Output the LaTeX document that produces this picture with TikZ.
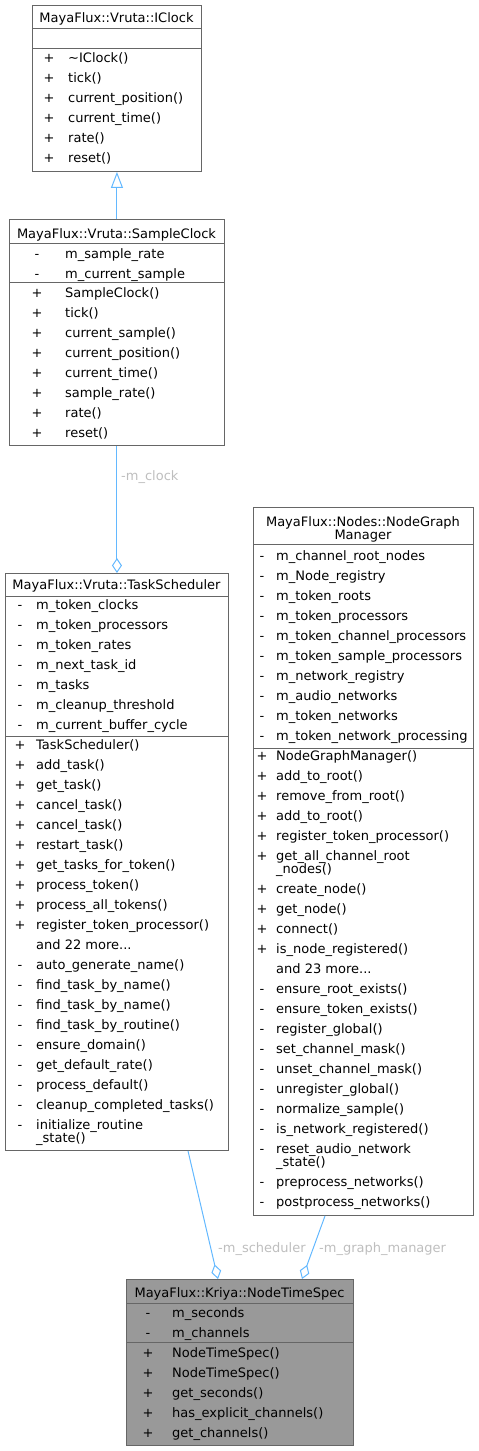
\documentclass[tikz,border=0pt]{standalone}
\usepackage{fontspec}
\setmainfont{DejaVu Sans}
\usetikzlibrary{arrows.meta}
\definecolor{edge}{HTML}{63B8FF}
\definecolor{bord}{HTML}{666666}
\definecolor{lab}{HTML}{BEBEBE}
\definecolor{hl}{HTML}{999999}
\newcommand\andmoreitems[1]{and #1 more...}
\begin{document}
\begin{tikzpicture}[x=1pt,y=-1pt, font=\fontsize{13}{15}\selectfont,
 box/.style={draw=bord, line width=0.9pt, fill=white, inner sep=0pt, anchor=north west},
 div/.style={draw=bord, line width=0.9pt},
 txt/.style={anchor=mid west, inner sep=0pt, yshift=-3pt},
 mk/.style={anchor=mid, inner sep=0pt, yshift=-3pt},
 ttl/.style={anchor=mid, inner sep=0pt, yshift=-3pt},
 lbl/.style={anchor=mid west, inner sep=0pt, text=lab, yshift=-3pt},
 inh/.style={draw=edge, line width=1pt, -{Triangle[open, length=16pt, width=12pt]}},
 agg/.style={draw=edge, line width=1pt, -{Diamond[open, length=15pt, width=10pt]}}]
\useasboundingbox (0,0) rectangle (479,1451);

% ---------------- IClock
\node[box, minimum width=169pt, minimum height=166pt] (iclock) at (32,5) {};
\draw[div] (32,28) -- (201,28);
\draw[div] (32,48) -- (201,48);
\node[ttl] (iclockT) at (116.5,17) {MayaFlux::Vruta::IClock};
\foreach \y/\m/\t in {57/+/\textasciitilde IClock(), 77/+/tick(), 97/+/current\_position(),
  117/+/current\_time(), 137/+/rate(), 157/+/reset()}{
  \node[mk] at (49,\y) {\m};
  \node[txt] at (68,\y) {\t};
}

% ---------------- SampleClock
\node[box, minimum width=215pt, minimum height=226pt] (sclock) at (9,219) {};
\draw[div] (9,243) -- (224,243);
\draw[div] (9,282) -- (224,282);
\node[ttl] (sclockT) at (116.5,233) {MayaFlux::Vruta::SampleClock};
\foreach \y/\m/\t in {253/-/m\_sample\_rate, 273/-/m\_current\_sample,
  292/+/SampleClock(), 312/+/tick(), 332/+/current\_sample(), 352/+/current\_position(),
  372/+/current\_time(), 392/+/sample\_rate(), 412/+/rate(), 432/+/reset()}{
  \node[mk] at (37,\y) {\m};
  \node[txt] at (65,\y) {\t};
}

% ---------------- TaskScheduler
\node[box, minimum width=223pt, minimum height=577pt] (sched) at (5,573) {};
\draw[div] (5,596) -- (228,596);
\draw[div] (5,736) -- (228,736);
\node[ttl] (schedT) at (116.5,584) {MayaFlux::Vruta::TaskScheduler};
\foreach \y/\m/\t in {604/-/m\_token\_clocks, 624/-/m\_token\_processors, 644/-/m\_token\_rates,
  664/-/m\_next\_task\_id, 684/-/m\_tasks, 704/-/m\_cleanup\_threshold, 724/-/m\_current\_buffer\_cycle,
  744/+/TaskScheduler(), 764/+/add\_task(), 784/+/get\_task(), 804/+/cancel\_task(), 824/+/cancel\_task(),
  844/+/restart\_task(), 864/+/get\_tasks\_for\_token(), 884/+/process\_token(), 904/+/process\_all\_tokens(),
  924/+/register\_token\_processor(), 944//\andmoreitems{22}, 964/-/auto\_generate\_name(),
  984/-/find\_task\_by\_name(), 1004/-/find\_task\_by\_name(), 1024/-/find\_task\_by\_routine(),
  1044/-/ensure\_domain(), 1064/-/get\_default\_rate(), 1084/-/process\_default(),
  1104/-/cleanup\_completed\_tasks(), 1124/-/initialize\_routine}{
  \node[mk] at (20,\y) {\m};
  \node[txt] at (36,\y) {\t};
}
\node[txt] at (36,1137) {\_state()};

% ---------------- NodeGraphManager
\node[box, minimum width=220pt, minimum height=708pt] (ngm) at (253,507) {};
\draw[div] (253,544) -- (473,544);
\draw[div] (253,748) -- (473,748);
\node[ttl] (ngmT1) at (363,521) {MayaFlux::Nodes::NodeGraph};
\node[ttl] (ngmT2) at (363,534) {Manager};
\foreach \y/\m/\t in {555/-/m\_channel\_root\_nodes, 575/-/m\_Node\_registry, 595/-/m\_token\_roots,
  615/-/m\_token\_processors, 635/-/m\_token\_channel\_processors, 655/-/m\_token\_sample\_processors,
  675/-/m\_network\_registry, 695/-/m\_audio\_networks, 715/-/m\_token\_networks,
  735/-/m\_token\_network\_processing,
  755/+/NodeGraphManager(), 775/+/add\_to\_root(), 795/+/remove\_from\_root(), 815/+/add\_to\_root(),
  835/+/register\_token\_processor(), 855/+/get\_all\_channel\_root,
  888/+/create\_node(), 908/+/get\_node(), 928/+/connect(), 948/+/is\_node\_registered(),
  968//\andmoreitems{23}, 988/-/ensure\_root\_exists(), 1008/-/ensure\_token\_exists(),
  1028/-/register\_global(), 1048/-/set\_channel\_mask(), 1068/-/unset\_channel\_mask(),
  1088/-/unregister\_global(), 1108/-/normalize\_sample(), 1128/-/is\_network\_registered(),
  1148/-/reset\_audio\_network, 1181/-/preprocess\_networks(), 1201/-/postprocess\_networks()}{
  \node[mk] at (262,\y) {\m};
  \node[txt] at (276,\y) {\t};
}
\node[txt] at (276,868) {\_nodes()};
\node[txt] at (276,1161) {\_state()};

% ---------------- NodeTimeSpec
\node[box, fill=hl, minimum width=227pt, minimum height=166pt] (nts) at (126,1279) {};
\draw[div] (126,1303) -- (353,1303);
\draw[div] (126,1342) -- (353,1342);
\node[ttl] (ntsT) at (239.5,1292) {MayaFlux::Kriya::NodeTimeSpec};
\foreach \y/\m/\t in {1312/-/m\_seconds, 1332/-/m\_channels, 1352/+/NodeTimeSpec(),
  1372/+/NodeTimeSpec(), 1392/+/get\_seconds(), 1412/+/has\_explicit\_channels(),
  1432/+/get\_channels()}{
  \node[mk] at (148,\y) {\m};
  \node[txt] at (172,\y) {\t};
}

% ---------------- connectors
\draw[inh] (sclock.north) -- (iclock.south);
\draw[agg] (sclock.south) -- (sched.north);
\node[lbl] (lclock) at (121,475) {-m\_clock};
\draw[agg] ([xshift=183pt]sched.south west) -- ([xshift=92pt]nts.north west);
\node[lbl] (lsched) at (218,1247) {-m\_scheduler};
\draw[agg] ([xshift=72pt]ngm.south west) -- ([xshift=176pt]nts.north west);
\node[lbl] (lgm) at (319,1247) {-m\_graph\_manager};
\end{tikzpicture}
\end{document}
